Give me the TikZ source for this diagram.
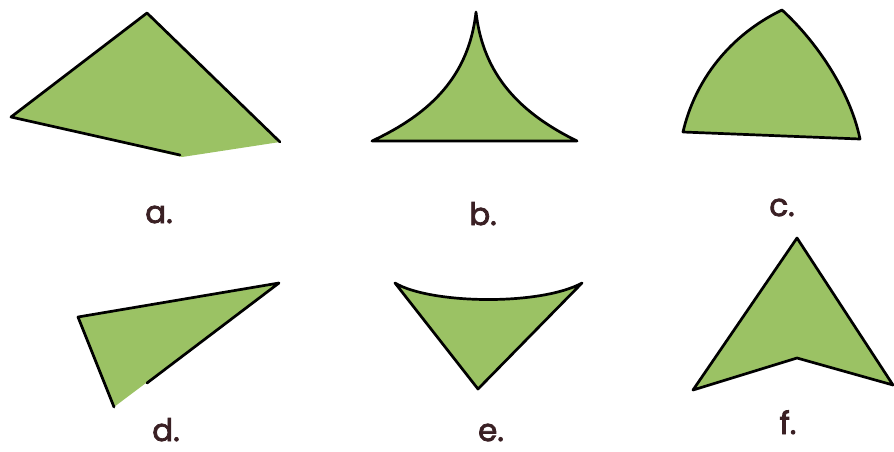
\documentclass[tikz,border=0pt]{standalone}
\usepackage{fontspec}
\setmainfont{Poppins}
\newfontfamily\labfont{Poppins}[FakeBold=2.6]
\definecolor{leaf}{RGB}{155,194,100}
\definecolor{ink}{RGB}{58,32,36}
\begin{document}
\begin{tikzpicture}[x=1pt,y=-1pt,
  shapefill/.style={fill=leaf},
  edge/.style={draw=black,line width=2.7pt,line cap=round,line join=round},
  lbl/.style={text=ink,font=\labfont\fontsize{31}{33}\selectfont,anchor=base,inner sep=0pt}]
\useasboundingbox (0,0) rectangle (894,451);
% a
\coordinate (aL) at (11,117);
\coordinate (aT) at (147,13);
\coordinate (aR) at (280,142);
\coordinate (aB) at (182,157);
\coordinate (aE) at (180,155);
\fill[shapefill] (aL) -- (aT) -- (aR) -- (aB) -- cycle;
\draw[edge] (aE) -- (aL) -- (aT) -- (aR);
% b
\coordinate (bL) at (372,141);
\coordinate (bT) at (476,12);
\coordinate (bR) at (577,141);
\filldraw[shapefill,edge] (bL) .. controls (432,113) and (469,75) .. (bT)
  .. controls (483,75) and (520,113) .. (bR) -- cycle;
% c
\coordinate (cL) at (683,132);
\coordinate (cT) at (782,10);
\coordinate (cR) at (860,139);
\filldraw[shapefill,edge] (cL) .. controls (695,80) and (730,35) .. (cT)
  .. controls (815,40) and (850,90) .. (cR) -- cycle;
% d
\coordinate (dL) at (78,317);
\coordinate (dR) at (279,283);
\coordinate (dB) at (114,407);
\coordinate (dE) at (147,383);
\fill[shapefill] (dL) -- (dR) -- (dB) -- cycle;
\draw[edge] (dE) -- (dR) -- (dL) -- (dB);
% e
\coordinate (eL) at (395,283);
\coordinate (eR) at (582,283);
\coordinate (eB) at (478,389);
\filldraw[shapefill,edge] (eL) .. controls (430,304) and (540,306) .. (eR) -- (eB) -- cycle;
% f
\coordinate (fT) at (797,238);
\coordinate (fL) at (693,390);
\coordinate (fN) at (797,358);
\coordinate (fR) at (893,385);
\filldraw[shapefill,edge] (fT) -- (fL) -- (fN) -- (fR) -- cycle;
% labels
\node[lbl] (la) at (159,223) {a.};
\node[lbl] (lb) at (483,225) {b.};
\node[lbl] (lc) at (782,216) {c.};
\node[lbl] (ld) at (166,441) {d.};
\node[lbl] (le) at (491,441) {e.};
\node[lbl] (lf) at (788,434) {f.};
\end{tikzpicture}
\end{document}
